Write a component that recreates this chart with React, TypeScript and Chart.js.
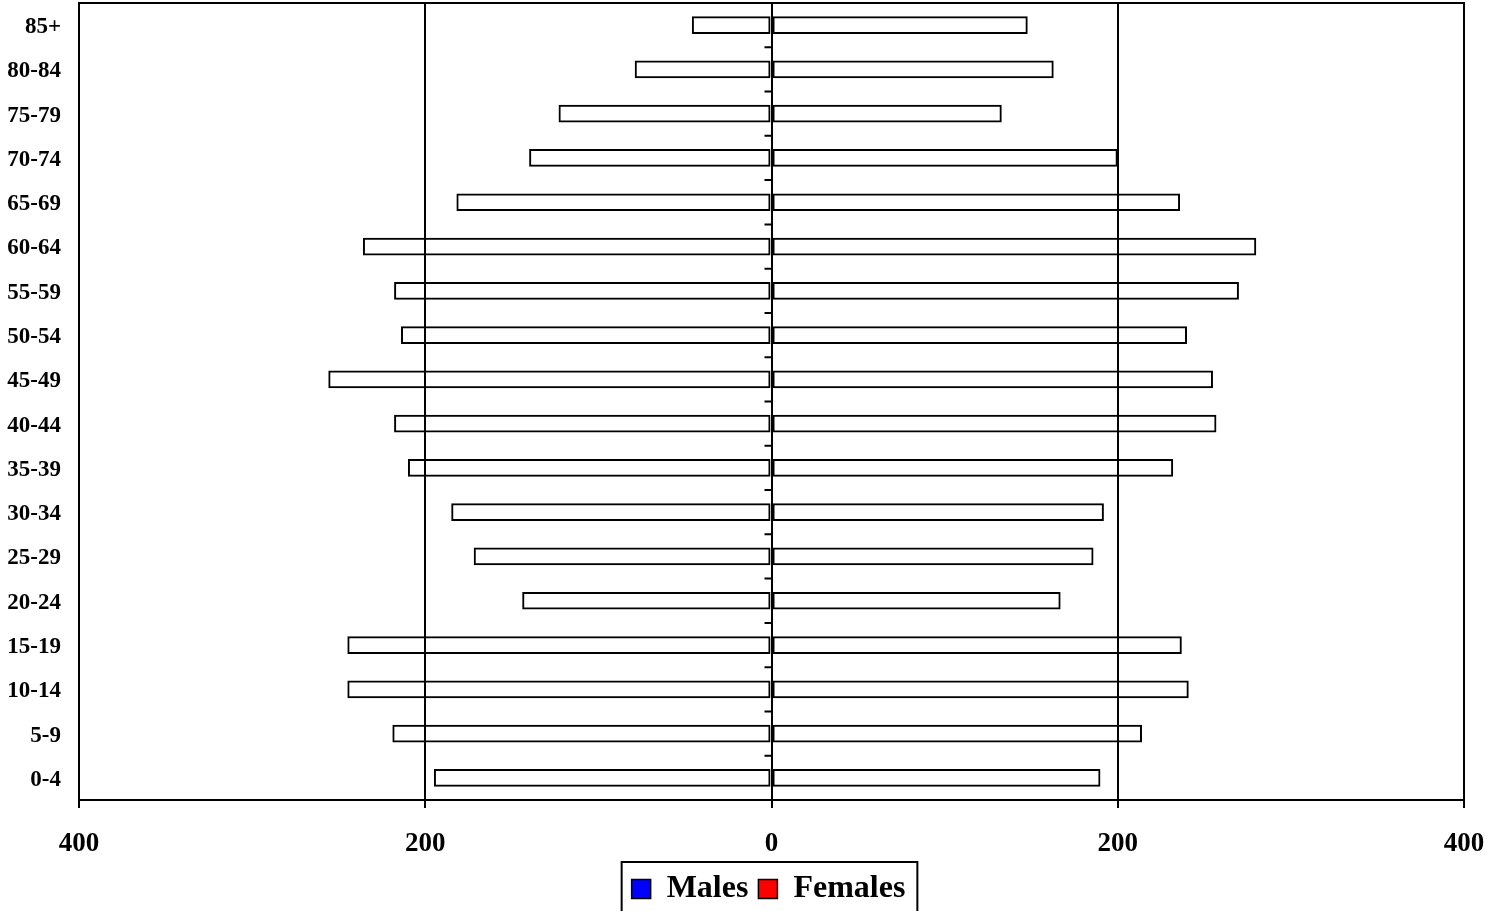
import React, { useEffect, useRef } from "react";
import { Chart, registerables } from "chart.js";

Chart.register(...registerables);

const ageGroups = ["85+", "80-84", "75-79", "70-74", "65-69", "60-64", "55-59", "50-54", "45-49", "40-44", "35-39", "30-34", "25-29", "20-24", "15-19", "10-14", "5-9", "0-4"];
const males = [46, 79, 123, 140, 182, 236, 218, 214, 256, 218, 210, 185, 172, 144, 245, 245, 219, 195];
const females = [148, 163, 133, 200, 236, 280, 270, 240, 255, 257, 232, 192, 186, 167, 237, 241, 214, 190];
const xTicks = [-400, -200, 0, 200, 400];

const FONT = "'Liberation Serif', 'Times New Roman', serif";

const framePlugin = {
  id: "frame",
  afterLayout(chart: any) {
    const lg = chart.legend;
    if (lg) {
      lg.left -= 3;
      lg.right -= 3;
      lg.top += 4;
      lg.bottom += 4;
    }
  },
  afterDraw(chart: any) {
    const { ctx, chartArea, scales } = chart;
    ctx.save();
    ctx.strokeStyle = "#000";
    ctx.lineWidth = 2;
    ctx.strokeRect(chartArea.left, chartArea.top, chartArea.right - chartArea.left, chartArea.bottom - chartArea.top);
    // center axis tick marks at category boundaries
    const x0 = scales.x.getPixelForValue(0);
    const ys = scales.y;
    const n = ageGroups.length;
    ctx.beginPath();
    for (let i = 0; i < n - 1; i++) {
      const y = (ys.getPixelForValue(i) + ys.getPixelForValue(i + 1)) / 2;
      ctx.moveTo(x0 - 7, y);
      ctx.lineTo(x0, y);
    }
    ctx.stroke();
    // legend border
    const lg = chart.legend;
    if (lg && lg.legendHitBoxes && lg.legendHitBoxes.length) {
      const hb = lg.legendHitBoxes;
      let l = Infinity, r = -Infinity, t = Infinity;
      hb.forEach((b: any) => {
        l = Math.min(l, b.left);
        r = Math.max(r, b.left + b.width);
        t = Math.min(t, b.top);
      });
      ctx.lineWidth = 2;
      ctx.strokeRect(l - 10, t - 11, r - l + 22, 80);
    }
    ctx.restore();
  },
};

function App() {
  const ref = useRef<HTMLCanvasElement | null>(null);
  useEffect(() => {
    if (!ref.current) return;
    const chart = new Chart(ref.current, {
      type: "bar",
      data: {
        labels: ageGroups,
        datasets: [
          {
            label: "Males",
            data: males.map((v) => -v),
            backgroundColor: "rgba(255,255,255,0)",
            borderColor: "#000",
            borderWidth: 2,
            borderSkipped: false,
            barPercentage: 0.4,
            categoryPercentage: 1,
          },
          {
            label: "Females",
            data: females,
            backgroundColor: "rgba(255,255,255,0)",
            borderColor: "#000",
            borderWidth: 2,
            borderSkipped: false,
            barPercentage: 0.4,
            categoryPercentage: 1,
          },
        ],
      },
      options: {
        indexAxis: "y",
        animation: false,
        responsive: false,
        maintainAspectRatio: false,
        layout: { padding: { left: 0, right: 38, top: 3, bottom: 0 } },
        scales: {
          x: {
            type: "linear",
            min: -400,
            max: 400,
            stacked: true,
            afterBuildTicks: (axis: any) => {
              axis.ticks = xTicks.map((v) => ({ value: v }));
            },
            afterFit: (scale: any) => {
              scale.height = 59;
              scale.paddingLeft = 0;
              scale.paddingRight = 0;
            },
            ticks: {
              color: "#000",
              padding: 21,
              font: { family: FONT, size: 27, weight: "bold", lineHeight: 1.11 },
              callback: (v: any) => String(Math.abs(Number(v))),
              maxRotation: 0,
            },
            grid: { color: "#000", lineWidth: 2, tickLength: 8, drawTicks: true },
            border: { display: true, color: "#000", width: 2 },
          },
          y: {
            type: "category",
            stacked: true,
            afterFit: (scale: any) => {
              scale.width = 79;
              scale.paddingTop = 0;
              scale.paddingBottom = 0;
            },
            ticks: {
              color: "#000",
              padding: 10,
              labelOffset: 2,
              font: { family: FONT, size: 23, weight: "bold" },
            },
            grid: { display: false },
            border: { display: true, color: "#000", width: 2 },
          },
        },
        plugins: {
          tooltip: { enabled: false },
          legend: {
            position: "bottom",
            fullSize: false,
            labels: {
              color: "#000",
              font: { family: FONT, size: 32, weight: "bold" },
              boxWidth: 19,
              boxHeight: 19,
              padding: 10,
              generateLabels: () => [
                { text: "Males", fillStyle: "#0000ff", strokeStyle: "#000", lineWidth: 1.5, datasetIndex: 0, hidden: false },
                { text: "Females", fillStyle: "#ff0000", strokeStyle: "#000", lineWidth: 1.5, datasetIndex: 1, hidden: false },
              ],
            },
          },
        },
      } as any,
      plugins: [framePlugin],
    });
    return () => chart.destroy();
  }, []);
  return (
    <div style={{ position: "fixed", left: 0, top: 0, width: 1502, height: 911, background: "#fff" }}>
      <canvas ref={ref} width={1502} height={911} style={{ display: "block" }} />
    </div>
  );
}

export default App;
